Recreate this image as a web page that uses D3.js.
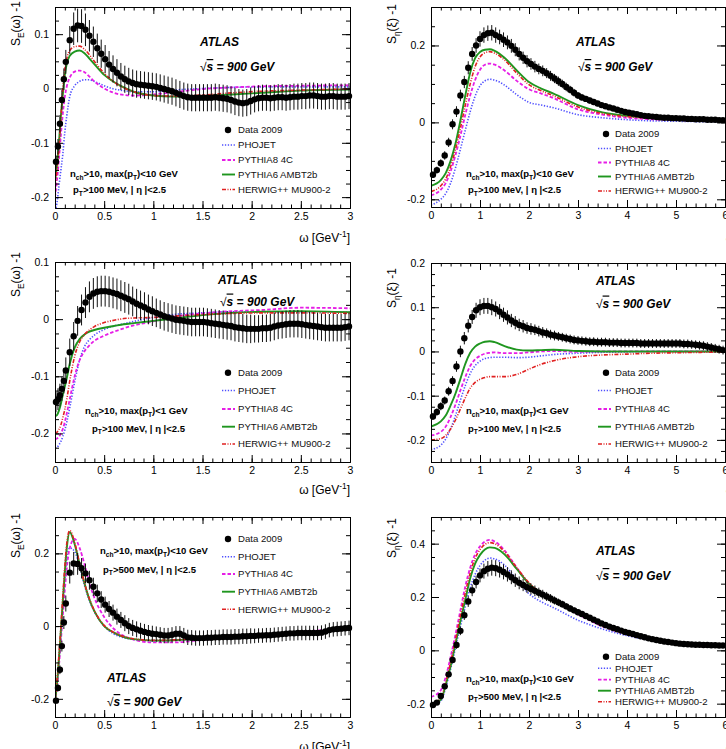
<!DOCTYPE html>
<html>
<head>
<meta charset="utf-8">
<script src="https://cdn.jsdelivr.net/npm/d3@7"></script>
<style>
  body { margin: 0; background: #fff; }
  svg text { font-family: "Liberation Sans", Arial, Helvetica, sans-serif; }
</style>
</head>
<body>
<svg id="chart" width="726" height="749"></svg>
<script>
// ---- bin centres ----
const OMEGA = [0.01,0.03,0.05,0.07,0.09,0.11,
  0.15,0.19,0.23,0.27,0.31,0.35,0.39,0.43,0.47,0.51,0.55,0.59,0.63,0.67,0.71,0.75,0.79,0.83,0.87,0.91,0.95,0.99,
  1.03,1.07,1.11,1.15,1.19,1.23,1.27,1.31,1.35,1.39,1.43,1.47,1.51,1.55,1.59,1.63,1.67,1.71,1.75,1.79,1.83,1.87,1.91,1.95,1.99,
  2.03,2.07,2.11,2.15,2.19,2.23,2.27,2.31,2.35,2.39,2.43,2.47,2.51,2.55,2.59,2.63,2.67,2.71,2.75,2.79,2.83,2.87,2.91,2.95,2.99]
const XI = [0.04,0.12,0.20,0.28,0.36,0.44,0.52,0.60,0.68,0.76,0.84,0.92,1.00,1.08,1.16,1.24,1.32,1.40,1.48,1.56,1.64,1.72,1.80,1.88,1.96,
  2.04,2.12,2.20,2.28,2.36,2.44,2.52,2.60,2.68,2.76,2.84,2.92,3.00,3.08,3.16,3.24,3.32,3.40,3.48,3.56,3.64,3.72,3.80,3.88,3.96,
  4.04,4.12,4.20,4.28,4.36,4.44,4.52,4.60,4.68,4.76,4.84,4.92,5.00,5.08,5.16,5.24,5.32,5.40,5.48,5.56,5.64,5.72,5.80,5.88,5.96]
const MC_OMEGA = [0,0.02,0.04,0.06,0.08,0.1,0.12,0.15,0.2,0.25,0.3,0.35,0.4,0.5,0.6,0.7,0.8,1.0,1.2,1.5,1.8,2.1,2.5,3.0]
const MC_XI = [0,0.2,0.3,0.4,0.5,0.6,0.7,0.8,0.9,1.0,1.1,1.2,1.3,1.5,1.75,2.0,2.25,2.5,3.0,3.5,4.0,4.5,5.0,5.5,6.0]

// ---- ticks and labels ----
const OMEGA_TICKS = [0,0.5,1,1.5,2,2.5,3]
const XI_TICKS = [0,1,2,3,4,5,6]
const YT_A = [-0.2,-0.1,0,0.1]
const YT_B = [-0.2,0,0.2]
const YT_C = [-0.2,-0.1,0,0.1]
const YT_D = [-0.2,-0.1,0,0.1,0.2]
const YT_E = [-0.2,0,0.2]
const YT_F = [-0.2,0,0.2,0.4]
const LEGEND = ['Data 2009','PHOJET','PYTHIA8 4C','PYTHIA6 AMBT2b','HERWIG++ MU900-2']

// ---- top left: S_E(omega), max pT < 10 GeV, pT > 100 MeV ----
const SE_A_DATA = [-0.135,-0.107,-0.065,-0.021,0.017,0.049,
  0.089,0.110,0.116,0.115,0.108,0.097,0.086,0.074,0.064,0.054,0.044,0.036,0.029,0.022,0.017,0.013,0.010,0.008,0.007,0.006,0.005,0.004,
  0.003,0.001,-0.001,-0.003,-0.005,-0.008,-0.011,-0.014,-0.016,-0.017,-0.017,-0.017,-0.017,-0.017,-0.017,-0.016,-0.017,-0.018,-0.019,-0.021,-0.024,-0.026,-0.027,-0.026,-0.023,
  -0.020,-0.018,-0.017,-0.017,-0.018,-0.017,-0.016,-0.016,-0.017,-0.016,-0.015,-0.015,-0.014,-0.014,-0.013,-0.013,-0.014,-0.015,-0.015,-0.014,-0.014,-0.015,-0.015,-0.015,-0.014]
const SE_A_ERR = [0.012,0.014,0.016,0.018,0.02,0.022,
  0.026,0.03,0.031,0.031,0.03,0.029,0.028,0.027,0.026,0.026,0.025,0.025,0.025,0.025,0.025,0.025,0.025,0.025,0.025,0.025,0.025,0.025,
  0.025,0.025,0.025,0.025,0.025,0.025,0.025,0.025,0.025,0.025,0.025,0.025,0.025,0.025,0.025,0.025,0.025,0.025,0.025,0.025,0.025,0.025,0.025,0.025,0.025,
  0.024,0.024,0.024,0.024,0.024,0.024,0.024,0.024,0.024,0.024,0.024,0.024,0.024,0.024,0.024,0.024,0.024,0.024,0.024,0.024,0.024,0.024,0.024,0.024,0.024]
const SE_A_PHOJET = [-0.23,-0.21,-0.18,-0.15,-0.12,-0.08,-0.05,-0.015,0.005,0.013,0.016,0.016,0.013,0.005,-0.001,-0.004,-0.006,-0.006,-0.003,0.0,0.002,0.003,0.003,0.003]
const SE_A_PYTHIA8 = [-0.2,-0.17,-0.13,-0.085,-0.045,-0.015,0.004,0.02,0.031,0.033,0.03,0.022,0.013,0.0,-0.008,-0.012,-0.013,-0.011,-0.007,-0.001,0.002,0.004,0.005,0.006]
const SE_A_PYTHIA6 = [-0.17,-0.14,-0.1,-0.05,-0.01,0.025,0.046,0.06,0.068,0.07,0.065,0.055,0.045,0.025,0.012,0.002,-0.006,-0.013,-0.015,-0.014,-0.011,-0.008,-0.004,-0.002]
const SE_A_HERWIG = [-0.18,-0.15,-0.11,-0.055,0.0,0.035,0.055,0.07,0.077,0.078,0.072,0.062,0.05,0.028,0.012,0.001,-0.006,-0.013,-0.014,-0.012,-0.008,-0.005,-0.003,-0.001]

// ---- top right: S_eta(xi), max pT < 10 GeV, pT > 100 MeV ----
const SETA_A_DATA = [-0.136,-0.124,-0.106,-0.086,-0.052,-0.005,0.028,0.07,0.105,0.142,0.178,0.2,0.217,0.227,0.232,0.233,0.227,0.222,0.215,0.208,0.199,0.189,0.178,0.168,0.159,
  0.152,0.145,0.139,0.134,0.128,0.121,0.114,0.107,0.1,0.092,0.085,0.077,0.07,0.065,0.061,0.057,0.053,0.049,0.045,0.042,0.039,0.036,0.033,0.03,0.027,
  0.025,0.023,0.021,0.019,0.017,0.016,0.015,0.014,0.013,0.012,0.012,0.011,0.011,0.010,0.010,0.009,0.009,0.008,0.008,0.008,0.007,0.007,0.007,0.006,0.006]
const SETA_A_ERR = [0.008,0.009,0.01,0.011,0.012,0.013,0.014,0.015,0.016,0.017,0.018,0.019,0.02,0.02,0.02,0.02,0.02,0.019,0.019,0.018,0.018,0.017,0.017,0.016,0.016,
  0.015,0.015,0.014,0.014,0.013,0.013,0.012,0.012,0.011,0.011,0.01,0.01,0.009,0.009,0.008,0.008,0.008,0.007,0.007,0.007,0.006,0.006,0.006,0.006,0.006,
  0.005,0.005,0.005,0.005,0.005,0.005,0.005,0.005,0.005,0.005,0.005,0.005,0.005,0.005,0.005,0.005,0.005,0.005,0.005,0.005,0.005,0.005,0.005,0.005,0.005]
const SETA_A_PHOJET = [-0.215,-0.2,-0.185,-0.158,-0.118,-0.07,-0.02,0.028,0.068,0.095,0.108,0.112,0.11,0.097,0.072,0.052,0.045,0.038,0.02,0.012,0.007,0.004,0.003,0.002,0.002]
const SETA_A_PYTHIA8 = [-0.19,-0.175,-0.158,-0.127,-0.085,-0.035,0.02,0.07,0.11,0.137,0.15,0.153,0.15,0.135,0.108,0.086,0.075,0.063,0.034,0.02,0.012,0.008,0.006,0.005,0.004]
const SETA_A_PYTHIA6 = [-0.165,-0.15,-0.132,-0.1,-0.055,0.005,0.07,0.13,0.167,0.183,0.189,0.19,0.186,0.168,0.135,0.105,0.088,0.075,0.045,0.026,0.017,0.012,0.009,0.007,0.006]
const SETA_A_HERWIG = [-0.18,-0.165,-0.147,-0.115,-0.07,-0.015,0.045,0.1,0.145,0.17,0.181,0.184,0.18,0.162,0.128,0.098,0.082,0.069,0.04,0.023,0.015,0.011,0.008,0.006,0.005]

// ---- middle left: S_E(omega), max pT < 1 GeV ----
const SE_B_DATA = [-0.145,-0.14,-0.133,-0.122,-0.108,-0.09,
  -0.058,-0.03,-0.003,0.016,0.029,0.039,0.045,0.048,0.049,0.049,0.048,0.046,0.044,0.041,0.038,0.035,0.031,0.027,0.024,0.021,0.017,0.014,
  0.011,0.008,0.005,0.003,0.001,-0.001,-0.002,-0.003,-0.004,-0.005,-0.005,-0.005,-0.005,-0.006,-0.007,-0.008,-0.009,-0.01,-0.011,-0.012,-0.014,-0.015,-0.016,-0.017,-0.017,
  -0.017,-0.017,-0.016,-0.016,-0.015,-0.013,-0.011,-0.01,-0.009,-0.008,-0.008,-0.008,-0.009,-0.01,-0.011,-0.012,-0.013,-0.014,-0.015,-0.015,-0.015,-0.015,-0.015,-0.014,-0.013]
const SE_B_ERR = [0.018,0.019,0.02,0.021,0.022,0.023,
  0.024,0.025,0.026,0.027,0.027,0.027,0.027,0.027,0.027,0.027,0.027,0.027,0.027,0.027,0.027,0.027,0.026,0.026,0.026,0.026,0.026,0.026,
  0.025,0.025,0.025,0.025,0.025,0.025,0.025,0.025,0.025,0.025,0.025,0.025,0.025,0.025,0.025,0.025,0.025,0.025,0.025,0.025,0.025,0.025,0.025,0.025,0.025,
  0.024,0.024,0.024,0.024,0.024,0.024,0.024,0.024,0.024,0.024,0.024,0.024,0.024,0.024,0.024,0.024,0.024,0.024,0.024,0.024,0.024,0.024,0.024,0.024,0.024]
const SE_B_PHOJET = [-0.225,-0.224,-0.22,-0.214,-0.205,-0.194,-0.18,-0.155,-0.11,-0.072,-0.048,-0.036,-0.028,-0.018,-0.012,-0.008,-0.004,0.003,0.008,0.011,0.013,0.013,0.013,0.012]
const SE_B_PYTHIA8 = [-0.21,-0.209,-0.206,-0.2,-0.192,-0.18,-0.165,-0.14,-0.1,-0.072,-0.056,-0.046,-0.038,-0.029,-0.022,-0.016,-0.011,-0.004,0.004,0.01,0.014,0.016,0.02,0.019]
const SE_B_PYTHIA6 = [-0.17,-0.168,-0.16,-0.148,-0.132,-0.118,-0.103,-0.078,-0.05,-0.035,-0.027,-0.022,-0.019,-0.015,-0.012,-0.009,-0.007,-0.003,0.001,0.007,0.011,0.013,0.014,0.012]
const SE_B_HERWIG = [-0.2,-0.198,-0.193,-0.185,-0.172,-0.158,-0.14,-0.108,-0.065,-0.04,-0.027,-0.019,-0.013,-0.006,-0.002,0.001,0.002,0.003,0.005,0.008,0.01,0.011,0.011,0.01]

// ---- middle right: S_eta(xi), max pT < 1 GeV ----
const SETA_B_DATA = [-0.147,-0.137,-0.124,-0.111,-0.09,-0.067,-0.034,0.0,0.03,0.058,0.078,0.093,0.1,0.103,0.103,0.1,0.096,0.09,0.083,0.077,0.07,0.065,0.06,0.057,0.053,
  0.051,0.049,0.046,0.043,0.041,0.038,0.036,0.034,0.032,0.03,0.028,0.026,0.025,0.024,0.023,0.022,0.022,0.021,0.021,0.021,0.02,0.02,0.02,0.019,0.019,
  0.019,0.019,0.019,0.018,0.018,0.018,0.018,0.018,0.018,0.018,0.018,0.018,0.018,0.018,0.017,0.017,0.016,0.015,0.014,0.013,0.011,0.009,0.007,0.005,0.003]
const SETA_B_ERR = [0.008,0.008,0.009,0.009,0.01,0.011,0.012,0.013,0.014,0.015,0.016,0.017,0.018,0.018,0.018,0.018,0.017,0.017,0.016,0.016,0.015,0.015,0.014,0.014,0.013,
  0.013,0.012,0.012,0.012,0.011,0.011,0.011,0.01,0.01,0.01,0.01,0.01,0.01,0.01,0.01,0.01,0.01,0.01,0.01,0.01,0.01,0.01,0.01,0.01,0.01,
  0.01,0.01,0.01,0.01,0.01,0.01,0.01,0.01,0.01,0.01,0.01,0.01,0.01,0.01,0.01,0.01,0.01,0.01,0.01,0.01,0.01,0.01,0.01,0.01,0.01]
const SETA_B_PHOJET = [-0.222,-0.212,-0.198,-0.175,-0.145,-0.11,-0.077,-0.05,-0.032,-0.022,-0.016,-0.014,-0.013,-0.013,-0.014,-0.013,-0.01,-0.007,-0.004,-0.002,-0.001,0.0,0.0,0.0,0.0]
const SETA_B_PYTHIA8 = [-0.19,-0.182,-0.17,-0.148,-0.12,-0.088,-0.058,-0.033,-0.018,-0.01,-0.005,-0.003,-0.002,-0.004,-0.004,-0.002,0.0,0.001,-0.001,0.0,0.0,0.0,0.0,0.0,0.0]
const SETA_B_PYTHIA6 = [-0.17,-0.158,-0.145,-0.122,-0.095,-0.062,-0.028,-0.003,0.011,0.018,0.022,0.023,0.021,0.012,0.004,0.002,0.003,0.004,0.001,0.0,0.0,0.0,0.0,0.0,0.0]
const SETA_B_HERWIG = [-0.2,-0.197,-0.19,-0.175,-0.155,-0.13,-0.105,-0.083,-0.07,-0.063,-0.059,-0.057,-0.057,-0.057,-0.052,-0.04,-0.029,-0.021,-0.012,-0.008,-0.006,-0.004,-0.003,-0.002,-0.001]

// ---- bottom left: S_E(omega), pT > 500 MeV ----
const SE_C_DATA = [-0.205,-0.17,-0.12,-0.055,0.01,0.062,
  0.147,0.172,0.171,0.159,0.145,0.126,0.108,0.09,0.073,0.059,0.047,0.037,0.026,0.017,0.008,0.0,-0.005,-0.009,-0.013,-0.016,-0.019,-0.021,
  -0.022,-0.024,-0.026,-0.026,-0.024,-0.021,-0.021,-0.026,-0.031,-0.032,-0.033,-0.033,-0.033,-0.032,-0.032,-0.031,-0.031,-0.03,-0.03,-0.03,-0.029,-0.029,-0.028,-0.028,-0.027,
  -0.027,-0.026,-0.026,-0.025,-0.025,-0.024,-0.023,-0.022,-0.021,-0.02,-0.02,-0.019,-0.019,-0.019,-0.019,-0.019,-0.019,-0.018,-0.015,-0.011,-0.009,-0.008,-0.007,-0.006,-0.005]
const SE_C_ERR = [0.008,0.01,0.012,0.015,0.018,0.022,
  0.03,0.032,0.03,0.028,0.027,0.026,0.025,0.024,0.023,0.022,0.022,0.022,0.022,0.022,0.022,0.022,0.022,0.022,0.022,0.022,0.022,0.022,
  0.021,0.021,0.021,0.021,0.021,0.021,0.021,0.021,0.021,0.021,0.021,0.021,0.021,0.021,0.021,0.021,0.021,0.021,0.021,0.021,0.021,0.021,0.021,0.021,0.021,
  0.02,0.02,0.02,0.02,0.02,0.02,0.02,0.02,0.02,0.02,0.02,0.02,0.02,0.02,0.02,0.02,0.02,0.02,0.02,0.02,0.02,0.02,0.02,0.02,0.02]
const SE_C_PHOJET = [-0.21,-0.16,-0.095,-0.02,0.06,0.13,0.185,0.215,0.205,0.163,0.112,0.07,0.04,0.0,-0.022,-0.032,-0.037,-0.04,-0.039,-0.035,-0.03,-0.025,-0.018,-0.008]
const SE_C_PYTHIA8 = [-0.21,-0.17,-0.11,-0.04,0.03,0.1,0.16,0.215,0.24,0.215,0.17,0.118,0.078,0.025,-0.008,-0.027,-0.037,-0.045,-0.045,-0.038,-0.031,-0.025,-0.016,-0.005]
const SE_C_PYTHIA6 = [-0.21,-0.16,-0.09,-0.01,0.07,0.15,0.215,0.258,0.225,0.17,0.118,0.073,0.041,0.0,-0.018,-0.03,-0.036,-0.04,-0.039,-0.035,-0.031,-0.026,-0.019,-0.008]
const SE_C_HERWIG = [-0.21,-0.15,-0.08,0.0,0.085,0.165,0.228,0.263,0.23,0.172,0.118,0.075,0.043,0.002,-0.018,-0.029,-0.035,-0.039,-0.038,-0.034,-0.03,-0.025,-0.018,-0.008]

// ---- bottom right: S_eta(xi), pT > 500 MeV ----
const SETA_C_DATA = [-0.205,-0.196,-0.171,-0.135,-0.09,-0.036,0.02,0.073,0.132,0.183,0.225,0.256,0.281,0.297,0.306,0.31,0.308,0.302,0.294,0.285,0.274,0.263,0.253,0.245,0.237,
  0.23,0.223,0.216,0.209,0.202,0.195,0.187,0.18,0.173,0.165,0.157,0.15,0.143,0.136,0.129,0.122,0.115,0.108,0.101,0.095,0.089,0.084,0.079,0.074,0.069,
  0.065,0.061,0.057,0.053,0.049,0.045,0.042,0.039,0.036,0.033,0.031,0.029,0.027,0.025,0.024,0.023,0.022,0.021,0.021,0.02,0.02,0.019,0.019,0.018,0.018]
const SETA_C_ERR = [0.008,0.008,0.009,0.01,0.011,0.012,0.014,0.016,0.018,0.02,0.022,0.024,0.026,0.028,0.029,0.03,0.03,0.029,0.028,0.027,0.026,0.025,0.024,0.023,0.022,
  0.021,0.02,0.019,0.018,0.017,0.016,0.015,0.014,0.013,0.012,0.012,0.011,0.011,0.01,0.01,0.009,0.009,0.008,0.008,0.008,0.007,0.007,0.007,0.006,0.006,
  0.005,0.005,0.005,0.005,0.005,0.005,0.005,0.005,0.005,0.005,0.005,0.005,0.005,0.005,0.005,0.005,0.005,0.005,0.005,0.005,0.005,0.005,0.005,0.005,0.005]
const SETA_C_PHOJET = [-0.205,-0.19,-0.14,-0.07,0.01,0.09,0.165,0.235,0.285,0.318,0.338,0.346,0.343,0.32,0.265,0.212,0.182,0.16,0.113,0.08,0.055,0.038,0.026,0.018,0.013]
const SETA_C_PYTHIA8 = [-0.175,-0.15,-0.1,-0.025,0.06,0.15,0.24,0.31,0.36,0.39,0.408,0.414,0.408,0.375,0.31,0.25,0.212,0.186,0.135,0.09,0.06,0.038,0.023,0.016,0.012]
const SETA_C_PYTHIA6 = [-0.2,-0.185,-0.13,-0.06,0.025,0.11,0.19,0.27,0.325,0.358,0.378,0.386,0.384,0.36,0.305,0.25,0.215,0.19,0.14,0.095,0.063,0.04,0.026,0.019,0.015]
const SETA_C_HERWIG = [-0.2,-0.18,-0.12,-0.045,0.04,0.13,0.215,0.29,0.345,0.378,0.397,0.404,0.4,0.37,0.31,0.253,0.215,0.188,0.138,0.093,0.062,0.04,0.025,0.018,0.014]

// line styles for PHOJET, PYTHIA8, PYTHIA6, HERWIG
var mcStyles = [
    { color: '#5050ff', width: 1.6, dash: '1.3,1.6' },
    { color: '#e61ee6', width: 1.8, dash: '3.5,2' },
    { color: '#1f961f', width: 1.9, dash: null },
    { color: '#e02020', width: 1.6, dash: '4,1.5,1,1.5,1,1.5' }
]

var leftLegend = { mx: 228, lx0: 222, lx1: 235, tx: 238 }
var rightLegend = { mx: 606, lx0: 598, lx1: 611, tx: 615 }

var cutA = [['n', ['ch', 'sub'], '>10, max(p', ['T', 'sub'], ')<10 GeV'], ['p', ['T', 'sub'], '>100 MeV, | \u03b7 |<2.5']]
var cutB = [['n', ['ch', 'sub'], '>10, max(p', ['T', 'sub'], ')<1 GeV'], ['p', ['T', 'sub'], '>100 MeV, | \u03b7 |<2.5']]
var cutC = [['n', ['ch', 'sub'], '>10, max(p', ['T', 'sub'], ')<10 GeV'], ['p', ['T', 'sub'], '>500 MeV, | \u03b7 |<2.5']]

var omegaTitleY = ['S', ['E', 'sub'], '(\u03c9) -1']
var xiTitleY = ['S', ['\u03b7', 'sub'], '(\u03be) -1']
var omegaTitleX = ['\u03c9 [GeV', ['-1', 'sup'], ']']
var xiTitleX = ['\u03be']

var panels = [
    { x0: 55, x1: 350, y0: 7, y1: 208, xDom: [0, 3], yDom: [-0.22, 0.15], xTicks: OMEGA_TICKS, xMinor: 0.1, yTicks: YT_A, yMinor: 0.025,
      xs: OMEGA, data: SE_A_DATA, err: SE_A_ERR, mcx: MC_OMEGA, mc: [SE_A_PHOJET, SE_A_PYTHIA8, SE_A_PYTHIA6, SE_A_HERWIG],
      yTitle: omegaTitleY, yTitleX: 20, yTitleEnd: 1, xTitle: omegaTitleX, xTitleX: 350, xTitleY: 242,
      legend: leftLegend, rows: [130, 145, 160, 174.5, 189.5],
      atlas: [200, 46], sqrt: [200, 71], cuts: cutA, cutPos: [[70, 177], [73, 193]] },
    { x0: 431, x1: 725, y0: 7, y1: 207, xDom: [0, 6], yDom: [-0.22, 0.3], xTicks: XI_TICKS, xMinor: 0.2, yTicks: YT_B, yMinor: 0.05,
      xs: XI, data: SETA_A_DATA, err: SETA_A_ERR, mcx: MC_XI, mc: [SETA_A_PHOJET, SETA_A_PYTHIA8, SETA_A_PYTHIA6, SETA_A_HERWIG],
      yTitle: xiTitleY, yTitleX: 396, yTitleEnd: 4, xTitle: xiTitleX, xTitleX: 731, xTitleY: 241,
      legend: rightLegend, rows: [134, 148.5, 162.5, 176.5, 191],
      atlas: [576, 46], sqrt: [578, 71], cuts: cutA, cutPos: [[466, 177], [468, 193]] },
    { x0: 55, x1: 350, y0: 262, y1: 462, xDom: [0, 3], yDom: [-0.25, 0.1], xTicks: OMEGA_TICKS, xMinor: 0.1, yTicks: YT_C, yMinor: 0.025,
      xs: OMEGA, data: SE_B_DATA, err: SE_B_ERR, mcx: MC_OMEGA, mc: [SE_B_PHOJET, SE_B_PYTHIA8, SE_B_PYTHIA6, SE_B_HERWIG],
      yTitle: omegaTitleY, yTitleX: 20, yTitleEnd: 252, xTitle: omegaTitleX, xTitleX: 350, xTitleY: 494,
      legend: leftLegend, rows: [372.7, 390.5, 409, 426.7, 444],
      atlas: [218, 283.5], sqrt: [220, 305.5], cuts: cutB, cutPos: [[85, 414], [92, 431.5]] },
    { x0: 431, x1: 725, y0: 263, y1: 462, xDom: [0, 6], yDom: [-0.25, 0.2], xTicks: XI_TICKS, xMinor: 0.2, yTicks: YT_D, yMinor: 0.025,
      xs: XI, data: SETA_B_DATA, err: SETA_B_ERR, mcx: MC_XI, mc: [SETA_B_PHOJET, SETA_B_PYTHIA8, SETA_B_PYTHIA6, SETA_B_HERWIG],
      yTitle: xiTitleY, yTitleX: 396, yTitleEnd: 268, xTitle: xiTitleX, xTitleX: 731, xTitleY: 493,
      legend: rightLegend, rows: [372.7, 390.5, 409, 426.7, 444],
      atlas: [596, 285], sqrt: [596, 307.5], cuts: cutB, cutPos: [[466, 414], [468, 431.5]] },
    { x0: 55, x1: 350, y0: 517, y1: 717, xDom: [0, 3], yDom: [-0.25, 0.3], xTicks: OMEGA_TICKS, xMinor: 0.1, yTicks: YT_E, yMinor: 0.05,
      xs: OMEGA, data: SE_C_DATA, err: SE_C_ERR, mcx: MC_OMEGA, mc: [SE_C_PHOJET, SE_C_PYTHIA8, SE_C_PYTHIA6, SE_C_HERWIG],
      yTitle: omegaTitleY, yTitleX: 20, yTitleEnd: 513, xTitle: omegaTitleX, xTitleX: 350, xTitleY: 751,
      legend: leftLegend, rows: [539, 556.7, 574, 591.7, 609.3],
      atlas: [107, 682], sqrt: [107, 706], cuts: cutC, cutPos: [[100, 554], [103, 572.5]] },
    { x0: 431, x1: 725, y0: 517, y1: 717, xDom: [0, 6], yDom: [-0.25, 0.5], xTicks: XI_TICKS, xMinor: 0.2, yTicks: YT_F, yMinor: 0.05,
      xs: XI, data: SETA_C_DATA, err: SETA_C_ERR, mcx: MC_XI, mc: [SETA_C_PHOJET, SETA_C_PYTHIA8, SETA_C_PYTHIA6, SETA_C_HERWIG],
      yTitle: xiTitleY, yTitleX: 396, yTitleEnd: 518, xTitle: xiTitleX, xTitleX: 731, xTitleY: 750,
      legend: rightLegend, rows: [656.7, 668.3, 679.7, 690.7, 701.7],
      atlas: [596, 555], sqrt: [596, 580], cuts: cutC, cutPos: [[466, 682], [468, 699.5]] }
]

var svg = d3.select('#chart')

// text made of normal / sub / sup pieces
function rich(sel, parts, size) {
    var shift = 0
    parts.forEach(p => {
        var t = typeof p === 'string' ? p : p[0]
        var mode = typeof p === 'string' ? 'n' : p[1]
        var target = mode === 'sub' ? size * 0.3 : mode === 'sup' ? -size * 0.4 : 0
        var ts = sel.append('tspan').text(t).attr('dy', target - shift)
        if (mode !== 'n') ts.attr('font-size', size * 0.7)
        shift = target
    })
}

function minorTicks(dom, step) {
    var out = []
    var start = Math.ceil(dom[0] / step - 1e-9)
    for (var i = start; i * step <= dom[1] + 1e-9; i++) out.push(+(i * step).toFixed(4))
    return out
}

function fmt(d) { return String(d) }

function styleAxis(g, size) {
    g.selectAll('path.domain').attr('stroke', '#000').attr('stroke-width', 1)
    g.selectAll('.tick line').attr('stroke', '#000').attr('stroke-width', 1)
    g.selectAll('.tick text').attr('fill', '#000')
        .attr('font-family', '"Liberation Sans", Arial, Helvetica, sans-serif')
        .attr('font-size', size)
    g.attr('font-family', null).attr('font-size', null)
}

panels.forEach((p, pi) => {
    var g = svg.append('g')
    var x = d3.scaleLinear().domain(p.xDom).range([p.x0, p.x1])
    var y = d3.scaleLinear().domain(p.yDom).range([p.y1, p.y0])

    var clipId = 'clip' + pi
    g.append('clipPath').attr('id', clipId)
        .append('rect').attr('x', p.x0).attr('y', p.y0)
        .attr('width', p.x1 - p.x0).attr('height', p.y1 - p.y0)

    // MC predictions
    var line = d3.line()
        .x((d, i) => x(p.mcx[i]))
        .y(d => y(d))
        .curve(d3.curveMonotoneX)

    var curves = g.append('g').attr('clip-path', 'url(#' + clipId + ')')
    p.mc.forEach((serie, si) => {
        var st = mcStyles[si]
        curves.append('path')
            .attr('d', line(serie))
            .attr('fill', 'none')
            .attr('stroke', st.color)
            .attr('stroke-width', st.width)
            .attr('stroke-dasharray', st.dash)
    })

    // data with error bars
    var pts = p.xs.map((v, i) => ({ x: v, y: p.data[i], e: p.err[i] }))
    var dataG = g.append('g')
    dataG.selectAll('line.err').data(pts).enter().append('line')
        .attr('class', 'err')
        .attr('x1', d => x(d.x)).attr('x2', d => x(d.x))
        .attr('y1', d => y(d.y - d.e)).attr('y2', d => y(d.y + d.e))
        .attr('stroke', '#111').attr('stroke-width', 1)
    dataG.selectAll('circle').data(pts).enter().append('circle')
        .attr('cx', d => x(d.x)).attr('cy', d => y(d.y))
        .attr('r', 3.2).attr('fill', '#000')

    // frame with inside ticks on all four sides
    var xMin = minorTicks(p.xDom, p.xMinor)
    var yMin = minorTicks(p.yDom, p.yMinor)

    var bottom = g.append('g').attr('transform', `translate(0,${p.y1})`)
        .call(d3.axisBottom(x).tickValues(p.xTicks).tickSizeInner(-7).tickSizeOuter(0).tickPadding(5).tickFormat(fmt))
    styleAxis(bottom, 10.5)
    var bottomMinor = g.append('g').attr('transform', `translate(0,${p.y1})`)
        .call(d3.axisBottom(x).tickValues(xMin).tickSizeInner(-3.5).tickSizeOuter(0).tickFormat(''))
    styleAxis(bottomMinor, 10)

    var top = g.append('g').attr('transform', `translate(0,${p.y0})`)
        .call(d3.axisTop(x).tickValues(p.xTicks).tickSizeInner(-7).tickSizeOuter(0).tickFormat(''))
    styleAxis(top, 10)
    var topMinor = g.append('g').attr('transform', `translate(0,${p.y0})`)
        .call(d3.axisTop(x).tickValues(xMin).tickSizeInner(-3.5).tickSizeOuter(0).tickFormat(''))
    styleAxis(topMinor, 10)

    var left = g.append('g').attr('transform', `translate(${p.x0},0)`)
        .call(d3.axisLeft(y).tickValues(p.yTicks).tickSizeInner(-8).tickSizeOuter(0).tickPadding(6).tickFormat(fmt))
    styleAxis(left, 10.5)
    var leftMinor = g.append('g').attr('transform', `translate(${p.x0},0)`)
        .call(d3.axisLeft(y).tickValues(yMin).tickSizeInner(-4).tickSizeOuter(0).tickFormat(''))
    styleAxis(leftMinor, 10)

    var right = g.append('g').attr('transform', `translate(${p.x1},0)`)
        .call(d3.axisRight(y).tickValues(p.yTicks).tickSizeInner(-8).tickSizeOuter(0).tickFormat(''))
    styleAxis(right, 10)
    var rightMinor = g.append('g').attr('transform', `translate(${p.x1},0)`)
        .call(d3.axisRight(y).tickValues(yMin).tickSizeInner(-4).tickSizeOuter(0).tickFormat(''))
    styleAxis(rightMinor, 10)

    // axis titles
    var yt = g.append('text')
        .attr('transform', `translate(${p.yTitleX},${p.yTitleEnd}) rotate(-90)`)
        .attr('text-anchor', 'end').attr('font-size', 12).attr('fill', '#000')
    rich(yt, p.yTitle, 12)
    var xt = g.append('text')
        .attr('x', p.xTitleX).attr('y', p.xTitleY)
        .attr('text-anchor', 'end').attr('font-size', 12).attr('fill', '#000')
    rich(xt, p.xTitle, 12)

    // ATLAS label
    g.append('text').attr('x', p.atlas[0]).attr('y', p.atlas[1])
        .attr('font-size', 12).attr('font-weight', 'bold').attr('font-style', 'italic')
        .text('ATLAS')
    var sq = g.append('text').attr('x', p.sqrt[0]).attr('y', p.sqrt[1])
        .attr('font-size', 12).attr('font-weight', 'bold').attr('font-style', 'italic')
    sq.append('tspan').attr('font-weight', 'normal').attr('font-style', 'normal').text('\u221a')
    sq.append('tspan').style('text-decoration', 'overline').text('s')
    sq.append('tspan').text(' = 900 GeV')

    // event selection
    p.cuts.forEach((c, ci) => {
        var t = g.append('text').attr('x', p.cutPos[ci][0]).attr('y', p.cutPos[ci][1])
            .attr('font-size', 9.5).attr('font-weight', 'bold').attr('fill', '#000')
        rich(t, c, 9.5)
    })

    // legend
    var lg = g.append('g')
    p.rows.forEach((ry, ri) => {
        if (ri === 0) {
            lg.append('circle').attr('cx', p.legend.mx).attr('cy', ry).attr('r', 3.2).attr('fill', '#000')
        } else {
            var st = mcStyles[ri - 1]
            lg.append('line')
                .attr('x1', p.legend.lx0).attr('x2', p.legend.lx1)
                .attr('y1', ry).attr('y2', ry)
                .attr('stroke', st.color).attr('stroke-width', st.width)
                .attr('stroke-dasharray', st.dash)
        }
        lg.append('text').attr('x', p.legend.tx).attr('y', ry).attr('dy', '0.35em')
            .attr('font-size', 9.6).attr('fill', '#111')
            .text(LEGEND[ri])
    })
})
</script>
</body>
</html>
